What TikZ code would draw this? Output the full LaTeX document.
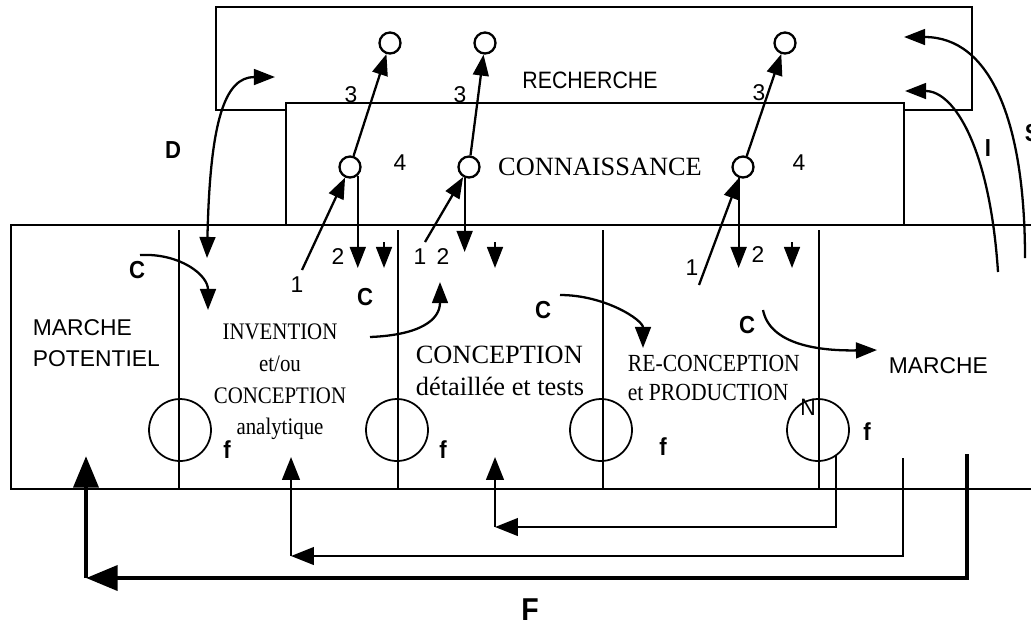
\documentclass[tikz,border=0pt]{standalone}
\usepackage{fontspec}
\setmainfont{Liberation Serif}
\setsansfont{Liberation Sans}
\newfontfamily\serifc[FakeStretch=0.88]{Liberation Serif}
\newfontfamily\sansc[FakeStretch=0.9]{Liberation Sans}
\usetikzlibrary{arrows.meta}

\begin{document}
\begin{tikzpicture}[x=0.02cm,y=-0.02cm,line width=1pt,
    arr/.style={line width=1.3pt,-{Triangle[length=12pt,width=9pt]}},
    darr/.style={line width=1.3pt,{Triangle[length=12pt,width=9pt]}-{Triangle[length=12pt,width=9pt]}},
    retour/.style={line width=1.3pt,-{Triangle[length=13pt,width=10pt]}},
    gros/.style={line width=2.8pt,-{Triangle[length=18pt,width=14pt]}},
    dot/.style={circle,draw,line width=1.3pt,fill=white,minimum size=0.42cm,inner sep=0pt},
    vanne/.style={circle,draw,minimum size=1.24cm,inner sep=0pt},
    num/.style={font=\sffamily\fontsize{13}{14}\selectfont,inner sep=0pt},
    sig/.style={font=\sansc\bfseries\fontsize{14}{15}\selectfont,inner sep=0pt},
    titre/.style={inner sep=0pt,align=left}]
  \useasboundingbox (0,0) rectangle (1031,627);
  % boites
  \draw (216,7) rectangle (972,110);
  \draw[fill=white] (286,225) |- (904,103) -- (904,225);
  \draw (1040,225) -- (11,225) -- (11,489) -- (1040,489);
  \foreach \x in {179,398,603,819} \draw (\x,230) -- (\x,489);
  \foreach \x [count=\i] in {180,397,601,818} \node[vanne] (v\i) at (\x,430) {};
  \foreach \x/\y [count=\i] in {227/450,443/450,663/447,867/432} \node[sig] (f\i) at (\x,\y) {f};
  \node[num,font=\sansc\fontsize{13.5}{14}\selectfont] (nn) at (808,407) {N};
  % textes
  \node[font=\sansc\fontsize{13.5}{14}\selectfont,inner sep=0pt] (recherche) at (590,80) {RECHERCHE};
  \node[font=\rmfamily\fontsize{15}{18}\selectfont,inner sep=0pt] (connaissance) at (600,167) {CONNAISSANCE};
  \node[titre,font=\sffamily\fontsize{13}{18}\selectfont,anchor=west] (potentiel) at (32,343) {MARCHE\\POTENTIEL};
  \node[titre,align=center,font=\serifc\fontsize{13.5}{18}\selectfont] (invention) at (280,382)
    {INVENTION\\et/ou\\CONCEPTION\\analytique};
  \node[titre,font=\rmfamily\fontsize{15}{18}\selectfont,anchor=west] (detail) at (415,371)
    {CONCEPTION\\d\'etaill\'ee et tests};
  \node[titre,font=\serifc\fontsize{14}{17}\selectfont,anchor=west] (production) at (627,378)
    {RE-CONCEPTION\\et PRODUCTION};
  \node[titre,font=\sffamily\fontsize{13}{14}\selectfont,anchor=west] (marche) at (888,366) {MARCHE};
  % cercles et fleches 1 2 3
  \foreach \x [count=\i] in {350,469,743} \node[dot] (k\i) at (\x,167) {};
  \foreach \x [count=\i] in {390,485,785} \node[dot] (r\i) at (\x,43) {};
  \coordinate (s1) at (302,270);
  \coordinate (s2) at (425,242);
  \coordinate (s3) at (699,285);
  \foreach \i in {1,2,3} {
    \draw[arr] (s\i) -- (k\i);
    \draw[arr] (k\i) -- (r\i);
  }
  \coordinate (d1) at (357,268);
  \coordinate (d2) at (465,252);
  \coordinate (d3) at (739,268);
  \draw[arr] (k1.-48) -- (k1.-48 |- d1);
  \draw[arr] (k2.-112) -- (k2.-112 |- d2);
  \draw[arr] (k3.-112) -- (k3.-112 |- d3);
  \foreach \x in {384,495,792} \draw[arr] (\x,242) -- (\x,268);
  \foreach \x/\y [count=\i] in {297/285,420/257,692/268} \node[num] (un\i) at (\x,\y) {1};
  \foreach \x/\y [count=\i] in {338/257,443/257,758/255} \node[num] (deux\i) at (\x,\y) {2};
  \foreach \x/\y [count=\i] in {351/95,460/95,759/93} \node[num] (trois\i) at (\x,\y) {3};
  \foreach \x/\y [count=\i] in {400/163,799/163} \node[num] (quatre\i) at (\x,\y) {4};
  % D, I, S
  \coordinate (da) at (207,258);
  \coordinate (db) at (275,77);
  \draw[darr] (da) .. controls (210,120) and (225,77) .. (db);
  \node[sig] (dd) at (173,150) {D};
  \coordinate (ia) at (998,272);
  \coordinate (ib) at (905,91);
  \draw[arr] (ia) .. controls (990,150) and (955,91) .. (ib);
  \node[sig] (ii) at (988,148) {I};
  \coordinate (sa) at (1025,258);
  \coordinate (sb) at (904,37);
  \draw[arr] (sa) .. controls (1025,120) and (990,37) .. (sb);
  \node[sig,anchor=west] (ss) at (1024,133) {S};
  % C
  \foreach \x/\y [count=\i] in {137/270,365/297,543/310,747/325} \node[sig] (c\i) at (\x,\y) {C};
  \coordinate (ca1) at (140,255);
  \coordinate (cb1) at (208,310);
  \coordinate (ca2) at (370,337);
  \coordinate (cb2) at (440,282);
  \coordinate (ca3) at (560,295);
  \coordinate (cb3) at (643,348);
  \coordinate (ca4) at (763,310);
  \coordinate (cb4) at (877,350);
  \draw[arr] (ca1) .. controls (180,253) and (208,275) .. (cb1);
  \draw[arr] (ca2) .. controls (420,335) and (440,320) .. (cb2);
  \draw[arr] (ca3) .. controls (605,295) and (643,320) .. (cb3);
  \draw[arr] (ca4) .. controls (770,345) and (820,351) .. (cb4);
  % retours
  \coordinate (pb) at (495,527);
  \coordinate (pc) at (495,457);
  \draw[retour] (v4.-55) |- (pb);
  \draw[retour] (pb) -- (pc);
  \coordinate (ma) at (903,458);
  \coordinate (mb) at (291,556);
  \coordinate (mc) at (291,457);
  \draw[retour] (ma) |- (mb);
  \draw[retour] (mb) -- (mc);
  \coordinate (fa) at (967,454);
  \coordinate (fb) at (86,578);
  \coordinate (fc) at (86,456);
  \draw[gros] (fa) |- (fb);
  \draw[gros] (fb) -- (fc);
  \node[font=\sansc\bfseries\fontsize{18}{19}\selectfont,inner sep=0pt] (ff) at (530,610) {F};
\end{tikzpicture}
\end{document}
